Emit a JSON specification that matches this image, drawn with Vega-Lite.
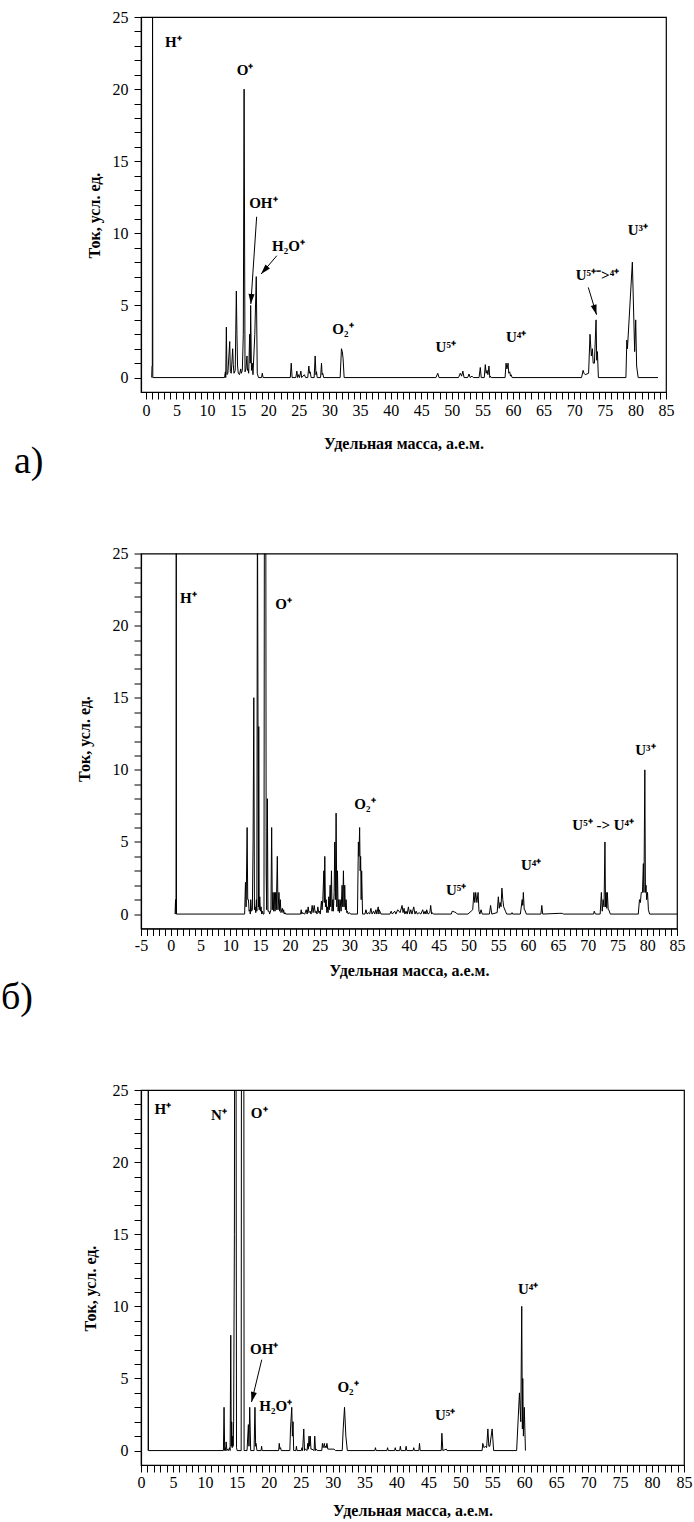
{
  "$schema": "https://vega.github.io/schema/vega-lite/v6.json",
  "background": "white",
  "padding": {"left": 0, "top": 8, "right": 0, "bottom": 0},
  "spacing": 161.5,
  "bounds": "flush",
  "datasets": {
    "a": [
      {"x":0.95,"y":0},{"x":1.0,"y":0.8},{"x":1.05,"y":0.8},{"x":1.09,"y":30},{"x":1.13,"y":0},
      {"x":12.85,"y":0},{"x":12.99,"y":0.4},{"x":13.05,"y":0},{"x":13.15,"y":3.5},{"x":13.25,"y":0.2},{"x":13.4,"y":0.3},{"x":13.7,"y":2.5},{"x":13.8,"y":0.4},{"x":13.95,"y":0.3},{"x":14.18,"y":2.0},{"x":14.28,"y":0.9},{"x":14.4,"y":0.3},{"x":14.6,"y":0.5},{"x":14.78,"y":6.0},{"x":14.88,"y":3.0},{"x":14.98,"y":0.8},{"x":15.1,"y":0.3},{"x":15.3,"y":0.2},{"x":15.5,"y":0.6},{"x":15.6,"y":0.3},{"x":15.76,"y":0.5},{"x":15.92,"y":3.0},{"x":16.05,"y":20},{"x":16.2,"y":0.4},{"x":16.35,"y":0.6},{"x":16.52,"y":1.5},{"x":16.6,"y":0.5},{"x":16.68,"y":0.6},{"x":16.8,"y":0.3},{"x":16.96,"y":3.0},{"x":17.05,"y":1.0},{"x":17.12,"y":5.0},{"x":17.25,"y":0.5},{"x":17.39,"y":1.0},{"x":17.5,"y":0.2},{"x":17.8,"y":3.0},{"x":18.04,"y":7.0},{"x":18.2,"y":0.3},{"x":18.4,"y":0},{"x":18.9,"y":0},{"x":19.02,"y":0.3},{"x":19.15,"y":0},
      {"x":23.6,"y":0},{"x":23.75,"y":1.0},{"x":23.9,"y":0},{"x":24.5,"y":0},{"x":24.67,"y":0.45},{"x":24.8,"y":0},{"x":24.95,"y":0.2},{"x":25.1,"y":0},{"x":25.33,"y":0.45},{"x":25.45,"y":0},{"x":25.9,"y":0.2},{"x":26.1,"y":0},{"x":26.45,"y":0},{"x":26.63,"y":0.8},{"x":26.75,"y":0.3},{"x":26.85,"y":0.4},{"x":27.0,"y":0},{"x":27.5,"y":0},{"x":27.66,"y":1.5},{"x":27.8,"y":0.2},{"x":27.88,"y":0.4},{"x":28.0,"y":0},{"x":28.55,"y":0},{"x":28.7,"y":1.0},{"x":28.8,"y":0.2},{"x":28.9,"y":0.3},{"x":29.05,"y":0},
      {"x":31.75,"y":0},{"x":31.96,"y":2.0},{"x":32.1,"y":1.8},{"x":32.23,"y":1.3},{"x":32.4,"y":0},
      {"x":47.4,"y":0},{"x":47.7,"y":0.3},{"x":47.9,"y":0},
      {"x":51.1,"y":0},{"x":51.37,"y":0.3},{"x":51.6,"y":0.1},{"x":51.8,"y":0.45},{"x":52.0,"y":0},{"x":52.6,"y":0},{"x":52.8,"y":0.25},{"x":53.0,"y":0},{"x":53.3,"y":0.1},{"x":53.5,"y":0},
      {"x":54.45,"y":0},{"x":54.65,"y":0.7},{"x":54.8,"y":0},{"x":55.3,"y":0},{"x":55.47,"y":0.9},{"x":55.6,"y":0.3},{"x":55.75,"y":0.5},{"x":55.9,"y":0.2},{"x":56.07,"y":0.8},{"x":56.2,"y":0},{"x":56.3,"y":0.1},{"x":56.45,"y":0},
      {"x":58.7,"y":0},{"x":58.86,"y":1.0},{"x":59.0,"y":0.6},{"x":59.19,"y":1.0},{"x":59.3,"y":0.3},{"x":59.46,"y":0.4},{"x":59.58,"y":0.1},{"x":59.68,"y":0.2},{"x":59.85,"y":0},
      {"x":71.2,"y":0},{"x":71.45,"y":0.5},{"x":71.6,"y":0.3},{"x":71.8,"y":0.2},{"x":72.35,"y":0.3},{"x":72.58,"y":3.0},{"x":72.8,"y":1.5},{"x":72.97,"y":2.0},{"x":73.1,"y":1.0},{"x":73.3,"y":1.0},{"x":73.57,"y":4.0},{"x":73.68,"y":1.2},{"x":73.79,"y":1.8},{"x":73.95,"y":0},
      {"x":78.45,"y":0},{"x":78.6,"y":2.6},{"x":78.7,"y":2.0},{"x":79.5,"y":8.0},{"x":79.88,"y":1.8},{"x":80.05,"y":4.0},{"x":80.2,"y":0.8},{"x":80.45,"y":0},
      {"x":83.7,"y":0}
    ],
    "b": [
      {"x":0.72,"y":0},{"x":0.8,"y":1.0},{"x":0.88,"y":0},{"x":0.92,"y":30},{"x":0.96,"y":0},
      {"x":12.4,"y":0},{"x":12.54,"y":2.2},{"x":12.65,"y":0.5},{"x":12.82,"y":6.0},{"x":12.92,"y":1.0},{"x":13.04,"y":1.0},{"x":13.15,"y":0.2},{"x":13.27,"y":0.3},{"x":13.35,"y":0},{"x":13.43,"y":1.0},{"x":13.55,"y":0.2},{"x":13.7,"y":0.3},{"x":13.82,"y":5.0},{"x":13.94,"y":15.0},{"x":14.05,"y":0.3},{"x":14.16,"y":0.5},{"x":14.27,"y":0.1},{"x":14.38,"y":1.0},{"x":14.45,"y":0.2},{"x":14.55,"y":30},{"x":14.66,"y":11.0},{"x":14.72,"y":0.5},{"x":14.77,"y":13.0},{"x":14.85,"y":0.3},{"x":14.94,"y":1.2},{"x":15.05,"y":0.2},{"x":15.16,"y":0.5},{"x":15.27,"y":0},{"x":15.38,"y":0.2},{"x":15.5,"y":0},{"x":15.65,"y":0},{"x":15.72,"y":30},{"x":15.95,"y":30},{"x":16.02,"y":3.0},{"x":16.1,"y":0.3},{"x":16.22,"y":8.0},{"x":16.32,"y":0.2},{"x":16.5,"y":0.2},{"x":16.6,"y":0},{"x":16.82,"y":0.3},{"x":16.94,"y":6.0},{"x":17.05,"y":0.3},{"x":17.17,"y":1.5},{"x":17.28,"y":0.2},{"x":17.39,"y":1.5},{"x":17.5,"y":0.2},{"x":17.61,"y":1.5},{"x":17.72,"y":0.3},{"x":17.89,"y":4.0},{"x":18.0,"y":0.3},{"x":18.17,"y":1.5},{"x":18.28,"y":0.2},{"x":18.39,"y":1.0},{"x":18.5,"y":0.1},{"x":18.73,"y":0.4},{"x":18.85,"y":0.1},{"x":18.95,"y":0.3},{"x":19.05,"y":0},{"x":19.17,"y":0.1},{"x":19.3,"y":0},
      {"x":21.8,"y":0},{"x":21.9,"y":0.3},{"x":22.0,"y":0},{"x":22.07,"y":0.1},{"x":22.5,"y":0},{"x":22.74,"y":0.3},{"x":22.9,"y":0},{"x":23.07,"y":0.5},{"x":23.2,"y":0.1},{"x":23.41,"y":0.2},{"x":23.55,"y":0},{"x":23.74,"y":0.6},{"x":23.9,"y":0.1},{"x":24.08,"y":0.6},{"x":24.25,"y":0.1},{"x":24.41,"y":0.2},{"x":24.55,"y":0},{"x":24.69,"y":0.5},{"x":24.85,"y":0.1},{"x":24.97,"y":0.2},{"x":25.1,"y":0},{"x":25.3,"y":0.9},{"x":25.4,"y":0.3},{"x":25.53,"y":1.0},{"x":25.7,"y":3.0},{"x":25.78,"y":0.8},{"x":25.86,"y":4.0},{"x":25.97,"y":0.5},{"x":26.09,"y":1.0},{"x":26.2,"y":0.1},{"x":26.31,"y":0.5},{"x":26.42,"y":0.1},{"x":26.53,"y":1.2},{"x":26.62,"y":0.3},{"x":26.76,"y":2.0},{"x":26.86,"y":0.5},{"x":26.98,"y":3.0},{"x":27.08,"y":0.2},{"x":27.2,"y":1.0},{"x":27.3,"y":0.2},{"x":27.43,"y":1.5},{"x":27.54,"y":5.0},{"x":27.65,"y":1.0},{"x":27.76,"y":7.0},{"x":27.88,"y":0.5},{"x":27.99,"y":3.0},{"x":28.1,"y":0.2},{"x":28.21,"y":1.0},{"x":28.32,"y":0.1},{"x":28.43,"y":1.0},{"x":28.6,"y":0.2},{"x":28.77,"y":2.0},{"x":28.88,"y":0.5},{"x":28.99,"y":3.0},{"x":29.1,"y":0.5},{"x":29.21,"y":2.0},{"x":29.32,"y":0.3},{"x":29.44,"y":1.0},{"x":29.55,"y":0.1},{"x":29.66,"y":0.2},{"x":29.8,"y":0},{"x":30.0,"y":0.1},{"x":30.2,"y":0},
      {"x":31.35,"y":0},{"x":31.5,"y":5.0},{"x":31.6,"y":4.0},{"x":31.71,"y":6.0},{"x":31.8,"y":3.0},{"x":31.88,"y":4.0},{"x":31.97,"y":1.0},{"x":32.05,"y":3.0},{"x":32.2,"y":0},
      {"x":32.6,"y":0},{"x":32.77,"y":0.3},{"x":32.95,"y":0},{"x":33.21,"y":0.1},{"x":33.4,"y":0},{"x":33.6,"y":0.4},{"x":33.8,"y":0},{"x":34.05,"y":0.2},{"x":34.25,"y":0},{"x":34.44,"y":0.3},{"x":34.6,"y":0},{"x":34.83,"y":0.5},{"x":34.95,"y":0},{"x":35.0,"y":0.3},{"x":35.3,"y":0},
      {"x":36.8,"y":0},{"x":37.0,"y":0.2},{"x":37.2,"y":0},{"x":37.6,"y":0.2},{"x":37.8,"y":0},{"x":38.1,"y":0.3},{"x":38.5,"y":0.1},{"x":38.84,"y":0.6},{"x":39.0,"y":0.1},{"x":39.17,"y":0.4},{"x":39.3,"y":0},{"x":39.5,"y":0.2},{"x":39.7,"y":0},{"x":39.9,"y":0.5},{"x":40.1,"y":0},{"x":40.3,"y":0.3},{"x":40.5,"y":0},{"x":40.8,"y":0.5},{"x":41.0,"y":0},{"x":41.2,"y":0.2},{"x":41.4,"y":0},{"x":41.7,"y":0.1},{"x":42.0,"y":0},{"x":42.3,"y":0.3},{"x":42.5,"y":0},{"x":42.7,"y":0.2},{"x":42.85,"y":0},{"x":42.97,"y":0.3},{"x":43.2,"y":0},{"x":43.5,"y":0.1},{"x":43.64,"y":0.6},{"x":43.8,"y":0},{"x":43.9,"y":0.1},{"x":44.1,"y":0},
      {"x":47.1,"y":0},{"x":47.25,"y":0.2},{"x":47.6,"y":0.15},{"x":47.9,"y":0.1},{"x":48.1,"y":0},
      {"x":49.9,"y":0},{"x":50.7,"y":0.3},{"x":50.9,"y":1.5},{"x":51.05,"y":0.8},{"x":51.2,"y":1.5},{"x":51.4,"y":0.8},{"x":51.6,"y":1.5},{"x":51.75,"y":0.2},{"x":51.9,"y":0},{"x":52.1,"y":0.3},{"x":52.3,"y":0},
      {"x":53.5,"y":0},{"x":53.7,"y":0.6},{"x":53.9,"y":0},
      {"x":54.8,"y":0.1},{"x":55.0,"y":1.2},{"x":55.15,"y":0.4},{"x":55.3,"y":0.8},{"x":55.45,"y":0.5},{"x":55.6,"y":1.8},{"x":55.75,"y":1.0},{"x":55.9,"y":0.5},{"x":56.2,"y":0.2},{"x":56.4,"y":0},
      {"x":57.2,"y":0},{"x":57.3,"y":0.1},{"x":57.4,"y":0},
      {"x":58.7,"y":0},{"x":59.0,"y":1.0},{"x":59.1,"y":0.6},{"x":59.2,"y":1.5},{"x":59.35,"y":0.3},{"x":59.45,"y":0.3},{"x":59.7,"y":0},
      {"x":62.15,"y":0},{"x":62.3,"y":0.6},{"x":62.45,"y":0},
      {"x":65.2,"y":0.05},{"x":65.8,"y":0.05},{"x":65.9,"y":0},
      {"x":71.0,"y":0},{"x":71.1,"y":0.2},{"x":71.3,"y":0},{"x":72.1,"y":0},{"x":72.3,"y":1.5},{"x":72.45,"y":0.2},{"x":72.6,"y":1.0},{"x":72.75,"y":0.5},{"x":72.9,"y":5.0},{"x":73.0,"y":0.5},{"x":73.1,"y":1.5},{"x":73.2,"y":0.4},{"x":73.3,"y":1.5},{"x":73.45,"y":0.3},{"x":73.55,"y":0.3},{"x":73.8,"y":0},
      {"x":78.5,"y":0},{"x":78.7,"y":1.0},{"x":78.85,"y":0.8},{"x":79.0,"y":1.5},{"x":79.2,"y":1.5},{"x":79.35,"y":3.5},{"x":79.45,"y":1.5},{"x":79.6,"y":10.0},{"x":79.7,"y":1.5},{"x":79.8,"y":2.0},{"x":79.9,"y":1.0},{"x":80.05,"y":1.5},{"x":80.2,"y":0.3},{"x":80.4,"y":0},
      {"x":85,"y":0}
    ],
    "c": [
      {"x":1.12,"y":0},{"x":1.14,"y":40},{"x":1.17,"y":0},
      {"x":12.9,"y":0},{"x":13.0,"y":3.0},{"x":13.1,"y":0},{"x":13.17,"y":0.2},{"x":13.25,"y":0},{"x":13.33,"y":0.6},{"x":13.45,"y":0},{"x":13.54,"y":0.1},{"x":13.7,"y":0},{"x":13.85,"y":0.2},{"x":13.95,"y":0},{"x":14.05,"y":8.0},{"x":14.13,"y":0.3},{"x":14.2,"y":2.0},{"x":14.28,"y":0.2},{"x":14.36,"y":1.0},{"x":14.43,"y":0.3},{"x":14.5,"y":2.0},{"x":14.62,"y":15.0},{"x":14.68,"y":40},{"x":14.85,"y":40},{"x":14.95,"y":0.2},{"x":15.05,"y":0},
      {"x":15.68,"y":0},{"x":15.74,"y":40},{"x":16.08,"y":40},{"x":16.14,"y":0},
      {"x":16.6,"y":0},{"x":16.81,"y":1.8},{"x":16.9,"y":0.3},{"x":17.02,"y":3.0},{"x":17.17,"y":0},
      {"x":17.7,"y":0},{"x":17.84,"y":3.0},{"x":17.95,"y":0.3},{"x":18.0,"y":0.5},{"x":18.15,"y":0},
      {"x":18.8,"y":0},{"x":18.88,"y":0.3},{"x":18.96,"y":0},
      {"x":21.55,"y":0},{"x":21.64,"y":0.5},{"x":21.75,"y":0.1},{"x":21.85,"y":0.2},{"x":21.95,"y":0},
      {"x":23.3,"y":0},{"x":23.4,"y":1.5},{"x":23.6,"y":3.0},{"x":23.7,"y":1.0},{"x":23.8,"y":2.0},{"x":23.9,"y":0},
      {"x":24.25,"y":0},{"x":24.33,"y":0.3},{"x":24.42,"y":0},
      {"x":25.1,"y":0},{"x":25.2,"y":0.2},{"x":25.3,"y":0},{"x":25.48,"y":1.5},{"x":25.6,"y":0},{"x":25.74,"y":0.1},{"x":26.0,"y":0},{"x":26.1,"y":0.5},{"x":26.2,"y":0.1},{"x":26.3,"y":1.0},{"x":26.4,"y":0.3},{"x":26.5,"y":1.0},{"x":26.6,"y":0.1},{"x":26.77,"y":0.1},{"x":27.1,"y":0},{"x":27.2,"y":1.0},{"x":27.32,"y":0},{"x":27.45,"y":0.1},{"x":27.6,"y":0},
      {"x":28.3,"y":0},{"x":28.4,"y":0.5},{"x":28.5,"y":0.2},{"x":28.6,"y":0.3},{"x":28.7,"y":0.5},{"x":28.8,"y":0.2},{"x":28.9,"y":0.3},{"x":29.0,"y":0.2},{"x":29.1,"y":0.5},{"x":29.25,"y":0.1},{"x":29.4,"y":0.1},{"x":30.2,"y":0.1},{"x":30.45,"y":0},
      {"x":31.5,"y":0},{"x":31.65,"y":1.5},{"x":31.86,"y":3.0},{"x":32.07,"y":1.0},{"x":32.3,"y":0},
      {"x":36.6,"y":0},{"x":36.7,"y":0.2},{"x":36.8,"y":0},
      {"x":38.5,"y":0},{"x":38.6,"y":0.2},{"x":38.7,"y":0},
      {"x":39.7,"y":0},{"x":39.8,"y":0.2},{"x":39.9,"y":0},
      {"x":40.5,"y":0},{"x":40.6,"y":0.3},{"x":40.7,"y":0},
      {"x":41.4,"y":0},{"x":41.5,"y":0.3},{"x":41.6,"y":0},
      {"x":42.6,"y":0},{"x":42.7,"y":0.2},{"x":42.8,"y":0},
      {"x":43.5,"y":0},{"x":43.6,"y":0.5},{"x":43.7,"y":0},
      {"x":47.0,"y":0},{"x":47.1,"y":1.2},{"x":47.25,"y":0},{"x":47.8,"y":0.1},{"x":47.9,"y":0},
      {"x":53.4,"y":0},{"x":53.5,"y":0.5},{"x":53.7,"y":0.2},{"x":53.9,"y":0.3},{"x":54.1,"y":0.2},{"x":54.3,"y":1.5},{"x":54.45,"y":0.3},{"x":54.6,"y":0.3},{"x":54.97,"y":1.5},{"x":55.2,"y":0},
      {"x":58.8,"y":0},{"x":59.24,"y":4.0},{"x":59.45,"y":2.0},{"x":59.6,"y":10.0},{"x":59.7,"y":1.5},{"x":59.76,"y":5.0},{"x":59.86,"y":1.0},{"x":60.0,"y":3.0},{"x":60.18,"y":0}
    ],
    "annA": [
      {"x":4.5,"y":23.3,"label":"H⁺"},
      {"x":16.2,"y":21.3,"label":"O⁺"},
      {"x":19.2,"y":12.1,"label":"OH⁺"},
      {"x":23.3,"y":9.1,"label":"H₂O⁺"},
      {"x":32.2,"y":3.4,"label":"O₂⁺"},
      {"x":49.0,"y":2.1,"label":"U⁵⁺"},
      {"x":60.5,"y":2.8,"label":"U⁴⁺"},
      {"x":73.8,"y":7.1,"label":"U⁵⁺⁻˃⁴⁺"},
      {"x":80.4,"y":10.2,"label":"U³⁺"}
    ],
    "arrA": [
      {"id":"OH","x":18.1,"y":11.15,"x2":17.15,"y2":5.1},
      {"id":"H2O","x":21.4,"y":8.45,"x2":18.83,"y2":7.18},
      {"id":"U","x":72.3,"y":6.25,"x2":73.65,"y2":4.36}
    ],
    "headA": [
      {"id":"OH","x":17.15,"y":5.1},
      {"id":"H2O","x":18.83,"y":7.18},
      {"id":"U","x":73.65,"y":4.36}
    ],
    "annB": [
      {"x":2.95,"y":21.9,"label":"H⁺"},
      {"x":18.95,"y":21.5,"label":"O⁺"},
      {"x":32.6,"y":7.65,"label":"O₂⁺"},
      {"x":47.9,"y":1.7,"label":"U⁵⁺"},
      {"x":60.5,"y":3.4,"label":"U⁴⁺"},
      {"x":72.6,"y":6.15,"label":"U⁵⁺ -> U⁴⁺"},
      {"x":79.7,"y":11.4,"label":"U³⁺"}
    ],
    "annC": [
      {"x":3.4,"y":23.7,"label":"H⁺"},
      {"x":12.2,"y":23.3,"label":"N⁺"},
      {"x":18.5,"y":23.4,"label":"O⁺"},
      {"x":19.3,"y":7.07,"label":"OH⁺"},
      {"x":21.1,"y":3.07,"label":"H₂O⁺"},
      {"x":32.4,"y":4.4,"label":"O₂⁺"},
      {"x":47.6,"y":2.5,"label":"U⁵⁺"},
      {"x":60.6,"y":11.2,"label":"U⁴⁺"}
    ],
    "arrC": [
      {"id":"OH","x":18.9,"y":6.3,"x2":17.3,"y2":3.37}
    ],
    "headC": [
      {"id":"OH","x":17.3,"y":3.37}
    ]
  },
  "vconcat": [
    {
      "width": 525,
      "height": 375,
      "title": {"text": "а)", "orient": "bottom", "anchor": "start", "frame": "group", "dx": -127, "offset": -8},
      "encoding": {
        "x": {"field": "x", "type": "quantitative", "scale": {"domain": [-0.8, 85], "nice": false, "zero": false},
          "axis": {"values": [0,1,2,3,4,5,6,7,8,9,10,11,12,13,14,15,16,17,18,19,20,21,22,23,24,25,26,27,28,29,30,31,32,33,34,35,36,37,38,39,40,41,42,43,44,45,46,47,48,49,50,51,52,53,54,55,56,57,58,59,60,61,62,63,64,65,66,67,68,69,70,71,72,73,74,75,76,77,78,79,80,81,82,83,84,85],
            "labelExpr": "datum.value % 5 === 0 ? '' + datum.value : ''",
            "labelOverlap": false, "tickSize": 7,
            "encode": {"ticks": {"update": {"y2": {"signal": "datum.value % 5 === 0 ? 7 : 4"}}}},
            "labelPadding": 3, "title": "Удельная масса, а.е.м.", "titlePadding": 17}},
        "y": {"field": "y", "type": "quantitative", "scale": {"domain": [-1, 25], "nice": false, "zero": false},
          "axis": {"values": [0,1,2,3,4,5,6,7,8,9,10,11,12,13,14,15,16,17,18,19,20,21,22,23,24,25],
            "labelExpr": "datum.value % 5 === 0 ? '' + datum.value : ''",
            "labelOverlap": false, "tickSize": 7,
            "encode": {"ticks": {"update": {"x2": {"signal": "datum.value % 5 === 0 ? -7 : -4"}}}},
            "labelPadding": 6, "title": "Ток, усл. ед.", "titlePadding": 10, "titleY": 198}}
      },
      "layer": [
        {"data": {"name": "a"}, "mark": {"type": "line", "clip": true, "color": "black", "strokeWidth": 1}},
        {"data": {"name": "annA"}, "mark": {"type": "text", "align": "center", "baseline": "middle"}, "encoding": {"text": {"field": "label"}}},
        {"data": {"name": "arrA"}, "mark": {"type": "rule", "color": "black", "strokeWidth": 1}, "encoding": {"x2": {"field": "x2"}, "y2": {"field": "y2"}}},
        {"data": {"name": "headA"}, "transform": [{"filter": "datum.id === 'OH'"}],
          "mark": {"type": "point", "shape": "M-0.3,-1L0,0L0.3,-1Z", "filled": true, "color": "black", "opacity": 1, "size": 400, "angle": 4, "strokeWidth": 0}},
        {"data": {"name": "headA"}, "transform": [{"filter": "datum.id === 'H2O'"}],
          "mark": {"type": "point", "shape": "M-0.3,-1L0,0L0.3,-1Z", "filled": true, "color": "black", "opacity": 1, "size": 400, "angle": 41, "strokeWidth": 0}},
        {"data": {"name": "headA"}, "transform": [{"filter": "datum.id === 'U'"}],
          "mark": {"type": "point", "shape": "M-0.3,-1L0,0L0.3,-1Z", "filled": true, "color": "black", "opacity": 1, "size": 400, "angle": 343, "strokeWidth": 0}}
      ]
    },
    {
      "width": 536,
      "height": 375,
      "title": {"text": "б)", "orient": "bottom", "anchor": "start", "frame": "group", "dx": -140, "offset": 0},
      "encoding": {
        "x": {"field": "x", "type": "quantitative", "scale": {"domain": [-5, 85], "nice": false, "zero": false},
          "axis": {"values": [-5,-4,-3,-2,-1,0,1,2,3,4,5,6,7,8,9,10,11,12,13,14,15,16,17,18,19,20,21,22,23,24,25,26,27,28,29,30,31,32,33,34,35,36,37,38,39,40,41,42,43,44,45,46,47,48,49,50,51,52,53,54,55,56,57,58,59,60,61,62,63,64,65,66,67,68,69,70,71,72,73,74,75,76,77,78,79,80,81,82,83,84,85],
            "labelExpr": "datum.value % 5 === 0 ? '' + datum.value : ''",
            "labelOverlap": false, "tickSize": 7,
            "encode": {"ticks": {"update": {"y2": {"signal": "datum.value % 5 === 0 ? 7 : 4"}}}},
            "labelPadding": 2, "title": "Удельная масса, а.е.м.", "titlePadding": 9}},
        "y": {"field": "y", "type": "quantitative", "scale": {"domain": [-1, 25], "nice": false, "zero": false},
          "axis": {"values": [0,1,2,3,4,5,6,7,8,9,10,11,12,13,14,15,16,17,18,19,20,21,22,23,24,25],
            "labelExpr": "datum.value % 5 === 0 ? '' + datum.value : ''",
            "labelOverlap": false, "tickSize": 7,
            "encode": {"ticks": {"update": {"x2": {"signal": "datum.value % 5 === 0 ? -7 : -4"}}}},
            "labelPadding": 6, "title": "Ток, усл. ед.", "titlePadding": 20, "titleY": 185}}
      },
      "layer": [
        {"data": {"name": "b"}, "mark": {"type": "line", "clip": true, "color": "black", "strokeWidth": 1}},
        {"data": {"name": "annB"}, "mark": {"type": "text", "align": "center", "baseline": "middle"}, "encoding": {"text": {"field": "label"}}}
      ]
    },
    {
      "width": 543,
      "height": 375,
      "title": {"text": "в)", "orient": "bottom", "anchor": "start", "frame": "group", "dx": -136, "offset": 3},
      "encoding": {
        "x": {"field": "x", "type": "quantitative", "scale": {"domain": [0, 85], "nice": false, "zero": false},
          "axis": {"values": [0,1,2,3,4,5,6,7,8,9,10,11,12,13,14,15,16,17,18,19,20,21,22,23,24,25,26,27,28,29,30,31,32,33,34,35,36,37,38,39,40,41,42,43,44,45,46,47,48,49,50,51,52,53,54,55,56,57,58,59,60,61,62,63,64,65,66,67,68,69,70,71,72,73,74,75,76,77,78,79,80,81,82,83,84,85],
            "labelExpr": "datum.value % 5 === 0 ? '' + datum.value : ''",
            "labelOverlap": false, "tickSize": 7,
            "encode": {"ticks": {"update": {"y2": {"signal": "datum.value % 5 === 0 ? 7 : 4"}}}},
            "labelPadding": 2, "title": "Удельная масса, а.е.м.", "titlePadding": 12}},
        "y": {"field": "y", "type": "quantitative", "scale": {"domain": [-1, 25], "nice": false, "zero": false},
          "axis": {"values": [0,1,2,3,4,5,6,7,8,9,10,11,12,13,14,15,16,17,18,19,20,21,22,23,24,25],
            "labelExpr": "datum.value % 5 === 0 ? '' + datum.value : ''",
            "labelOverlap": false, "tickSize": 7,
            "encode": {"ticks": {"update": {"x2": {"signal": "datum.value % 5 === 0 ? -7 : -4"}}}},
            "labelPadding": 6, "title": "Ток, усл. ед.", "titlePadding": 14, "titleY": 198}}
      },
      "layer": [
        {"data": {"name": "c"}, "mark": {"type": "line", "clip": true, "color": "black", "strokeWidth": 1}},
        {"data": {"name": "annC"}, "mark": {"type": "text", "align": "center", "baseline": "middle"}, "encoding": {"text": {"field": "label"}}},
        {"data": {"name": "arrC"}, "mark": {"type": "rule", "color": "black", "strokeWidth": 1}, "encoding": {"x2": {"field": "x2"}, "y2": {"field": "y2"}}},
        {"data": {"name": "headC"},
          "mark": {"type": "point", "shape": "M-0.3,-1L0,0L0.3,-1Z", "filled": true, "color": "black", "opacity": 1, "size": 400, "angle": 14, "strokeWidth": 0}}
      ]
    }
  ],
  "config": {
    "view": {"stroke": "black", "strokeWidth": 1.2},
    "axis": {
      "domainColor": "black", "domainWidth": 1.2, "tickColor": "black", "tickWidth": 1,
      "labelColor": "black", "labelFont": "Liberation Serif", "labelFontSize": 16,
      "titleColor": "black", "titleFont": "Liberation Serif", "titleFontSize": 16, "titleFontWeight": "bold",
      "grid": false, "labelOverlap": false, "labelFlush": false
    },
    "text": {"font": "Liberation Serif", "fontWeight": "bold", "fontSize": 15, "color": "black"},
    "title": {"font": "Liberation Serif", "fontSize": 38, "fontWeight": "normal", "color": "black"}
  }
}
